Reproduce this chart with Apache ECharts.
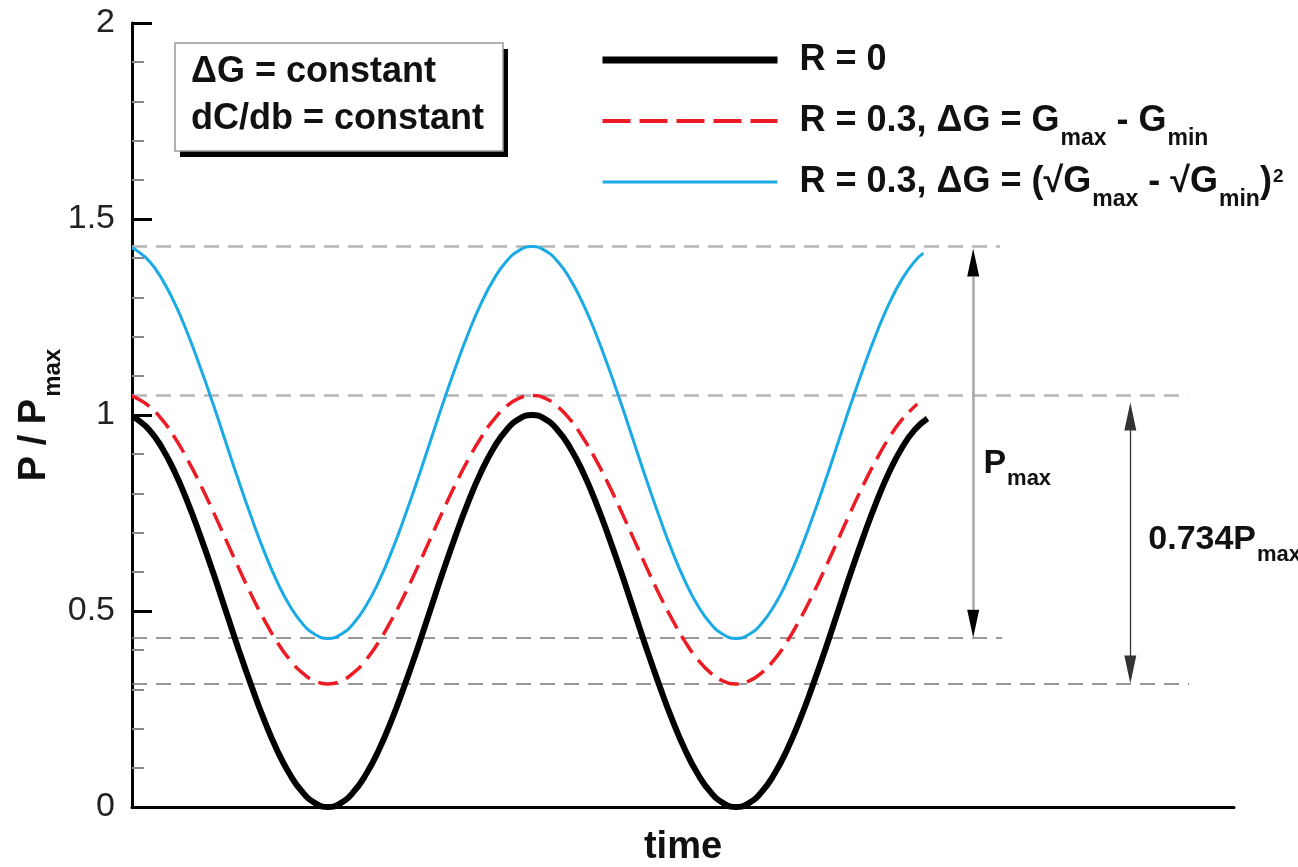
<!DOCTYPE html>
<html>
<head>
<meta charset="utf-8">
<script src="https://cdn.jsdelivr.net/npm/echarts@6/dist/echarts.min.js"></script>
<style>
html,body{margin:0;padding:0;background:#fff;}
#chart{width:1298px;height:867px;}
</style>
</head>
<body>
<div id="chart"></div>
<script>
// ---- data ----
const time = [0.02, 0.03125, 0.0625, 0.09375, 0.125, 0.15625, 0.1875, 0.21875, 0.25, 0.28125, 0.3125, 0.34375, 0.375, 0.40625, 0.4375, 0.46875,
  0.5, 0.53125, 0.5625, 0.59375, 0.625, 0.65625, 0.6875, 0.71875, 0.75, 0.78125, 0.8125, 0.84375, 0.875, 0.90625, 0.9375, 0.96875,
  1, 1.03125, 1.0625, 1.09375, 1.125, 1.15625, 1.1875, 1.21875, 1.25, 1.28125, 1.3125, 1.34375, 1.375, 1.40625, 1.4375, 1.46875,
  1.5, 1.53125, 1.5625, 1.59375, 1.625, 1.65625, 1.6875, 1.71875, 1.75, 1.78125, 1.8125, 1.84375, 1.875, 1.90625, 1.9375];
const endTimes = [1.969, 1.944, 1.959];
const seriesNames = ['R = 0', 'R = 0.3, ΔG = Gmax - Gmin', 'R = 0.3, ΔG = (√Gmax - √Gmin)²'];
const blackValues = [0.996,
  0.990, 0.962, 0.916, 0.854, 0.778, 0.691, 0.598, 0.5, 0.402, 0.309, 0.222, 0.146, 0.084, 0.038, 0.010, 0,
  0.010, 0.038, 0.084, 0.146, 0.222, 0.309, 0.402, 0.5, 0.598, 0.691, 0.778, 0.854, 0.916, 0.962, 0.990, 1,
  0.990, 0.962, 0.916, 0.854, 0.778, 0.691, 0.598, 0.5, 0.402, 0.309, 0.222, 0.146, 0.084, 0.038, 0.010, 0,
  0.010, 0.038, 0.084, 0.146, 0.222, 0.309, 0.402, 0.5, 0.598, 0.691, 0.778, 0.854, 0.916, 0.962,
  0.991];
const redValues = [1.047,
  1.043, 1.022, 0.988, 0.942, 0.886, 0.823, 0.754, 0.682, 0.610, 0.541, 0.478, 0.422, 0.376, 0.342, 0.321, 0.314,
  0.321, 0.342, 0.376, 0.422, 0.478, 0.541, 0.610, 0.682, 0.754, 0.823, 0.886, 0.942, 0.988, 1.022, 1.043, 1.05,
  1.043, 1.022, 0.988, 0.942, 0.886, 0.823, 0.754, 0.682, 0.610, 0.541, 0.478, 0.422, 0.376, 0.342, 0.321, 0.314,
  0.321, 0.342, 0.376, 0.422, 0.478, 0.541, 0.610, 0.682, 0.754, 0.823, 0.886, 0.942, 0.988, 1.022,
  1.028];
const blueValues = [1.426,
  1.420, 1.392, 1.346, 1.284, 1.208, 1.121, 1.028, 0.93, 0.832, 0.739, 0.652, 0.576, 0.514, 0.468, 0.440, 0.43,
  0.440, 0.468, 0.514, 0.576, 0.652, 0.739, 0.832, 0.93, 1.028, 1.121, 1.208, 1.284, 1.346, 1.392, 1.420, 1.43,
  1.420, 1.392, 1.346, 1.284, 1.208, 1.121, 1.028, 0.93, 0.832, 0.739, 0.652, 0.576, 0.514, 0.468, 0.440, 0.43,
  0.440, 0.468, 0.514, 0.576, 0.652, 0.739, 0.832, 0.93, 1.028, 1.121, 1.208, 1.284, 1.346, 1.392,
  1.413];
const yTicks = [0, 0.5, 1, 1.5, 2];
// reference levels: [value, end time]
const refLevels = [[1.43, 2.147], [1.05, 2.608], [0.432, 2.152], [0.314, 2.61]];
// arrows: [time, top value, bottom value]
const arrowPmax = [2.081, 1.425, 0.432];
const arrow734 = [2.466, 1.032, 0.315];
const labelPmax = [2.106, 0.877];
const label734 = [2.51, 0.683];

const FONT = '"Liberation Sans", Arial, Helvetica, sans-serif';

function pairs(values, endT) {
  const ts = time.concat([endT]);
  return values.map((v, i) => [ts[i], v]);
}

const legendRich = {
  m0: {fontFamily: FONT, fontWeight: 'bold', fontSize: 36, lineHeight: 56, color: '#111', padding: [0, 0, 0, 17]},
  m: {fontFamily: FONT, fontWeight: 'bold', fontSize: 36, lineHeight: 56, color: '#111'},
  s: {fontFamily: FONT, fontWeight: 'bold', fontSize: 23, lineHeight: 22, color: '#111', verticalAlign: 'top', padding: [34, 0, 0, 1]},
  p: {fontFamily: FONT, fontWeight: 'bold', fontSize: 19, lineHeight: 18, color: '#111', verticalAlign: 'top', padding: [13, 0, 0, 1]}
};
const legendText = {};
legendText[seriesNames[0]] = '{m0|R = 0}{s| }';
legendText[seriesNames[1]] = '{m0|R = 0.3, ΔG = G}{s|max}{m| - G}{s|min}';
legendText[seriesNames[2]] = '{m0|R = 0.3, ΔG = (√G}{s|max}{m| - √G}{s|min}{m|)}{p|2}';

const labelRich = {
  m: {fontFamily: FONT, fontWeight: 'bold', fontSize: 34, lineHeight: 53, color: '#111'},
  s: {fontFamily: FONT, fontWeight: 'bold', fontSize: 22, lineHeight: 22, color: '#111', verticalAlign: 'top', padding: [31, 0, 0, 1]}
};

const refStyleLight = {color: '#b5b5b5', width: 2.5, type: [15, 9]};
const refStyleDark = {color: '#777', width: 1.5, type: [15, 9]};

const refLineData = refLevels.map((r, i) => [
  {coord: [0.02, r[0]], lineStyle: i < 2 ? refStyleLight : refStyleDark},
  {coord: [r[1], r[0]]}
]);

const inset = 14 / 391.75;
const arrowData = [
  [{coord: [arrowPmax[0], arrowPmax[1] - inset], symbol: 'triangle', symbolSize: [12, 28], lineStyle: {color: '#000', width: 1, type: 'solid'}},
   {coord: [arrowPmax[0], arrowPmax[2] + inset], symbol: 'triangle', symbolSize: [12, 28]}],
  [{coord: [arrowPmax[0], arrowPmax[1] - 2 * inset], lineStyle: {color: '#a8a8a8', width: 2.5, type: 'solid'}},
   {coord: [arrowPmax[0], arrowPmax[2] + 2 * inset]}],
  [{coord: [arrow734[0], arrow734[1] - inset], symbol: 'triangle', symbolSize: [12, 28], lineStyle: {color: '#333', width: 1.3, type: 'solid'}},
   {coord: [arrow734[0], arrow734[2] + inset], symbol: 'triangle', symbolSize: [12, 28]}]
];

const chart = echarts.init(document.getElementById('chart'), null, {renderer: 'canvas'});
chart.setOption({
  animation: false,
  backgroundColor: '#fff',
  graphic: [
    {type: 'rect', z: 1, silent: true, shape: {x: 180, y: 49, width: 328, height: 108}, style: {fill: '#000'}},
    {type: 'rect', z: 2, silent: true, shape: {x: 175, y: 43, width: 328, height: 108}, style: {fill: '#fff', stroke: '#999', lineWidth: 1.5}}
  ],
  title: {
    text: 'ΔG = constant\ndC/db = constant',
    left: 191, top: 49, padding: 0, z: 10,
    textStyle: {fontFamily: FONT, fontWeight: 'bold', fontSize: 36, lineHeight: 47, color: '#111'}
  },
  legend: {
    orient: 'vertical', left: 599, top: 32, padding: 0,
    itemWidth: 175, itemHeight: 2, itemGap: 4,
    selectedMode: false,
    itemStyle: {opacity: 0},
    data: [
      {name: seriesNames[0], lineStyle: {width: 7, color: '#000'}},
      {name: seriesNames[1], lineStyle: {width: 4, color: '#ed1c24', type: [28, 9]}},
      {name: seriesNames[2], lineStyle: {width: 3, color: '#1aabe6'}}
    ],
    formatter: n => legendText[n],
    textStyle: {rich: legendRich}
  },
  grid: {left: 132, right: 64, top: 23, bottom: 60, containLabel: false, outerBoundsMode: 'none'},
  xAxis: {
    type: 'value', min: 0.02, max: 2.72,
    name: 'time', nameLocation: 'middle', nameGap: 22,
    nameTextStyle: {fontFamily: FONT, fontWeight: 'bold', fontSize: 38, color: '#111'},
    axisLine: {show: true, lineStyle: {color: '#000', width: 3}},
    axisTick: {show: false}, axisLabel: {show: false}, splitLine: {show: false}
  },
  yAxis: {
    type: 'value', min: yTicks[0], max: yTicks[yTicks.length - 1], interval: 0.5,
    name: '{m|P / P}{s|max}', nameLocation: 'middle', nameRotate: 90, nameGap: 67,
    nameMoveOverlap: false,
    nameTextStyle: {rich: {
      m: {fontFamily: FONT, fontWeight: 'bold', fontSize: 38, lineHeight: 60, color: '#111'},
      s: {fontFamily: FONT, fontWeight: 'bold', fontSize: 24, lineHeight: 24, color: '#111', verticalAlign: 'top', padding: [36, 0, 0, 2]}
    }},
    axisLine: {show: true, lineStyle: {color: '#000', width: 3}},
    axisTick: {show: true, inside: true, length: 20, lineStyle: {color: '#000', width: 3}},
    minorTick: {show: true, splitNumber: 5, length: 12, lineStyle: {color: '#888', width: 2}},
    axisLabel: {fontFamily: FONT, fontSize: 34, color: '#222', margin: 17,
      formatter: v => String(v)},
    splitLine: {show: false}
  },
  series: [
    {
      name: 'refs', type: 'line', data: [], z: 1, silent: true,
      markLine: {
        silent: true, z: 1, symbol: ['none', 'none'], label: {show: false},
        emphasis: {disabled: true},
        data: refLineData
      }
    },
    {
      name: 'arrows', type: 'line', data: [], z: 4, silent: true,
      markLine: {
        silent: true, z: 4, symbol: ['none', 'none'], label: {show: false},
        emphasis: {disabled: true},
        data: arrowData
      },
      markPoint: {
        silent: true, symbol: 'circle', symbolSize: 0,
        itemStyle: {color: 'transparent'},
        label: {show: true, position: 'right', distance: 0, rich: labelRich},
        data: [
          {coord: labelPmax, label: {formatter: '{m|P}{s|max}'}},
          {coord: label734, label: {formatter: '{m|0.734P}{s|max}'}}
        ]
      }
    },
    {
      name: seriesNames[0], type: 'line', smooth: true, symbol: 'none', z: 3,
      lineStyle: {color: '#000', width: 6},
      itemStyle: {color: '#000'},
      data: pairs(blackValues, endTimes[0])
    },
    {
      name: seriesNames[1], type: 'line', smooth: true, symbol: 'none', z: 3,
      lineStyle: {color: '#ed1c24', width: 3.5, type: [20, 9]},
      itemStyle: {color: '#ed1c24'},
      data: pairs(redValues, endTimes[1])
    },
    {
      name: seriesNames[2], type: 'line', smooth: true, symbol: 'none', z: 3,
      lineStyle: {color: '#1aabe6', width: 3},
      itemStyle: {color: '#1aabe6'},
      data: pairs(blueValues, endTimes[2])
    }
  ]
});
</script>
</body>
</html>
